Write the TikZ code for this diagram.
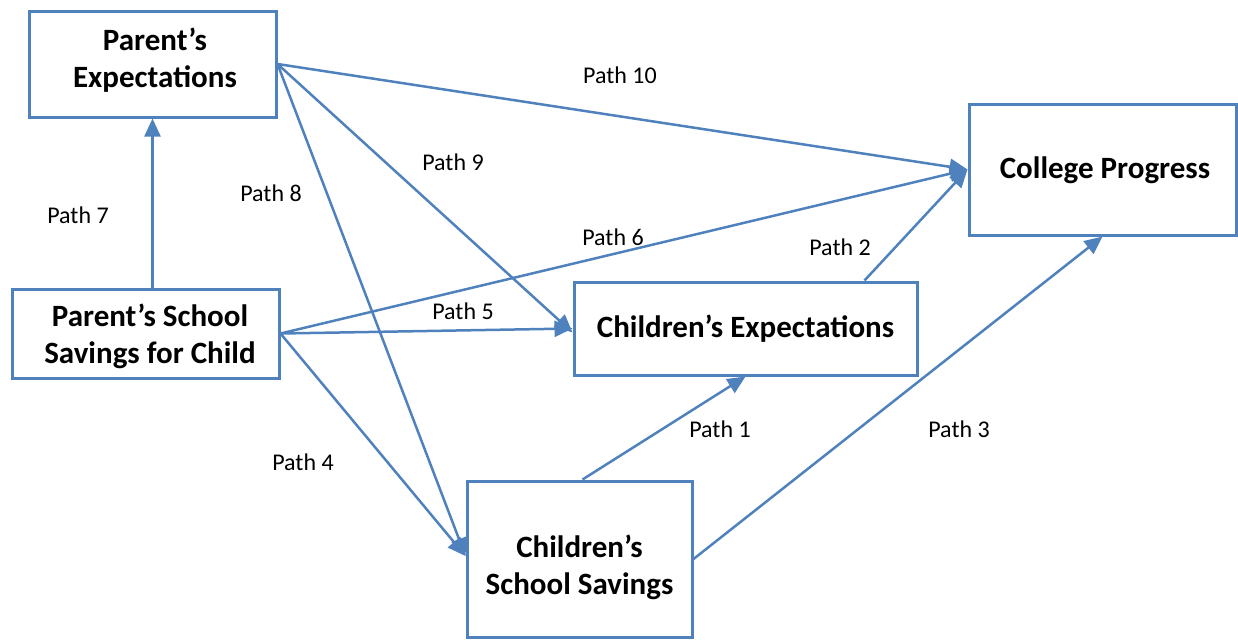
\documentclass[tikz,border=0pt]{standalone}
\usepackage{fontspec}
\setmainfont{Carlito}
\usetikzlibrary{arrows.meta}
\definecolor{boxblue}{HTML}{4F81BD}
\tikzset{
  box/.style={draw=boxblue, line width=3pt, fill=white, inner sep=0pt},
  boxtext/.style={align=center, inner sep=0pt, font=\fontsize{31}{37}\selectfont\bfseries},
  conn/.style={draw=boxblue, line width=2.5pt, -{Triangle[length=18pt,width=16pt]}},
  lab/.style={font=\fontsize{24}{29}\selectfont, inner sep=0pt}
}
\begin{document}
\begin{tikzpicture}[x=1pt,y=-1pt]
\useasboundingbox (0,0) rectangle (1238,641);
\node[box, minimum width=247pt, minimum height=106pt] (pe) at (152.5,64) {};
\node[box, minimum width=267pt, minimum height=89pt] (pss) at (145.5,333.5) {};
\node[box, minimum width=343pt, minimum height=93pt] (ce) at (745.5,328.5) {};
\node[box, minimum width=225pt, minimum height=156pt] (css) at (579.5,559) {};
\node[box, minimum width=267pt, minimum height=131pt] (cp) at (1102.5,169.5) {};

\node[boxtext] (pet) at (155,60) {Parent’s\\Expectations};
\node[boxtext] (psst) at (150,336) {Parent’s School\\Savings for Child};
\node[boxtext] (cet) at (745.5,329) {Children’s Expectations};
\node[boxtext] (csst) at (579.5,567) {Children’s\\School Savings};
\node[boxtext] (cpt) at (1105,170) {College Progress};

\draw[conn] ([xshift=7pt]pss.north) -- (pe.south);
\draw[conn] (pe.east) -- (cp.west);
\draw[conn] (pe.east) -- ([yshift=-4pt]ce.west);
\draw[conn] (pe.east) -- ([yshift=3pt]css.west);
\draw[conn] (pss.east) -- (cp.west);
\draw[conn] (pss.east) -- (ce.west);
\draw[conn] (pss.east) -- ([yshift=3pt]css.west);
\draw[conn] ([xshift=-54pt]ce.north east) -- (cp.west);
\draw[conn] ([xshift=3pt]css.north) -- (ce.south);
\draw[conn] (css.east) -- (cp.south);

\node[lab] (l10) at (620,75) {Path 10};
\node[lab] (l9) at (453,162) {Path 9};
\node[lab] (l8) at (271,193) {Path 8};
\node[lab] (l7) at (78,215) {Path 7};
\node[lab] (l6) at (613,237) {Path 6};
\node[lab] (l2) at (840,247) {Path 2};
\node[lab] (l5) at (463,311) {Path 5};
\node[lab] (l1) at (720,429) {Path 1};
\node[lab] (l3) at (959,429) {Path 3};
\node[lab] (l4) at (303,462) {Path 4};
\end{tikzpicture}
\end{document}
